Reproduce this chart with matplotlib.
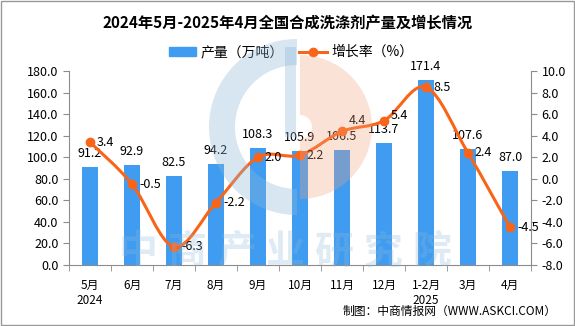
import matplotlib.pyplot as plt
import numpy as np
from matplotlib.path import Path
from matplotlib.patches import PathPatch, Wedge, Rectangle

plt.rcParams['font.family'] = ['Noto Sans CJK SC', 'DejaVu Sans']

months = ['5月\n2024', '6月', '7月', '8月', '9月', '10月', '11月', '12月',
          '1-2月\n2025', '3月', '4月']
output = [91.2, 92.9, 82.5, 94.2, 108.3, 105.9, 106.5, 113.7, 171.4, 107.6, 87.0]
growth = [3.4, -0.5, -6.3, -2.2, 2.0, 2.2, 4.4, 5.4, 8.5, 2.4, -4.5]

bar_color = '#3f9cf0'
line_color = '#fa6418'
axis_color = '#8c8c8c'

fig = plt.figure(figsize=(5.75, 3.26), dpi=100)
ax = fig.add_axes([0.12, 0.187, 0.8035, 0.595])
ax2 = ax.twinx()

x = np.arange(len(months))
ax.bar(x, output, width=0.36, color=bar_color, zorder=2)
for xi, v in zip(x, output):
    ax.annotate(f'{v:.1f}', (xi, v), xytext=(0, 5), textcoords='offset points',
                ha='center', va='bottom', fontsize=9)

ax.set_xlim(-0.5, len(months) - 0.5)
ax.set_ylim(0, 180)
ax.set_yticks(np.arange(0, 181, 20))
ax.set_yticklabels([f'{t:.1f}' for t in np.arange(0, 181, 20)])
ax.set_xticks(x)
ax.set_xticklabels(months, fontsize=8.5, linespacing=1.25)
ax.set_xticks(np.arange(-0.5, len(months), 1), minor=True)
ax.tick_params(axis='x', which='major', length=0, pad=10)
ax.tick_params(axis='x', which='minor', length=4, color=axis_color)
ax.tick_params(axis='y', labelsize=9, length=4, color=axis_color)

ax2.set_ylim(-8, 10)
ax2.set_yticks(np.arange(-8, 11, 2))
ax2.set_yticklabels([f'{t:.1f}' for t in np.arange(-8, 11, 2)])
ax2.tick_params(axis='y', labelsize=9, length=4, color=axis_color)

for a in (ax, ax2):
    a.spines['top'].set_visible(False)
    for s in ('left', 'right', 'bottom'):
        a.spines[s].set_color(axis_color)
ax2.spines['left'].set_visible(False)
ax2.spines['bottom'].set_visible(False)
ax.spines['right'].set_visible(False)

# smoothed growth line: cubic bezier through the points
pts = np.column_stack([x, growth]).astype(float)
ext = np.vstack([pts[0], pts, pts[-1]])
verts = [pts[0]]
codes = [Path.MOVETO]
for i in range(len(pts) - 1):
    p0, p1, p2, p3 = ext[i], ext[i + 1], ext[i + 2], ext[i + 3]
    verts += [p1 + (p2 - p0) / 6, p2 - (p3 - p1) / 6, p2]
    codes += [Path.CURVE4] * 3
ax2.add_patch(PathPatch(Path(verts, codes), fill=False, edgecolor=line_color,
                        lw=2.2, zorder=3))
ax2.plot(x, growth, 'o', color=line_color, ms=6, zorder=4)
# 11月 label sits higher so it clears the bar label below it
lift = {6: 8, 7: 4}
for i, (xi, v) in enumerate(zip(x, growth)):
    ax2.annotate(f'{v:.1f}', (xi, v), xytext=(5, lift.get(i, 0)),
                 textcoords='offset points', ha='left', va='center', fontsize=9)

# legend
bar_h = plt.Rectangle((0, 0), 1, 1, color=bar_color)
line_h, = ax2.plot([], [], '-o', color=line_color, lw=2.2, ms=6)
fig.legend([bar_h, line_h], ['产量（万吨）', '增长率（%）'], loc='center',
           bbox_to_anchor=(0.506, 0.84), ncol=2, frameon=False, fontsize=10,
           handlelength=2.0, handleheight=0.6, handletextpad=0.3,
           columnspacing=1.1)

fig.text(0.5, 0.93, '2024年5月-2025年4月全国合成洗涤剂产量及增长情况',
         ha='center', va='center', fontsize=11, fontweight='bold')
fig.text(0.967, 0.025, '制图：中商情报网（WWW.ASKCI.COM）', ha='right',
         va='bottom', fontsize=8.5)

# watermark overlay in pixel coordinates
wm = fig.add_axes([0, 0, 1, 1], zorder=10)
wm.set_xlim(0, 575)
wm.set_ylim(326, 0)
wm.axis('off')
wm.add_patch(Wedge((297, 127), 88, 90, 270, width=26, color='#8fb8d8',
                   alpha=0.35, lw=0))
wm.add_patch(Rectangle((285, 47), 11, 90, color='#8fb8d8', alpha=0.35, lw=0))
wm.add_patch(Wedge((300, 127), 72, -90, 90, width=60, color='#f4a27c',
                   alpha=0.3, lw=0))
for i, ch in enumerate('中商产业研究院'):
    wm.text(138 + i * 49, 252, ch, ha='center', va='center', fontsize=28,
            fontweight='bold', color='#8fb8d8', alpha=0.28)

fig.add_artist(Rectangle((0.001, 0.002), 0.997, 0.995, transform=fig.transFigure,
                         fill=False, edgecolor='#999999', lw=1))

fig.savefig('out.png', dpi=100)
